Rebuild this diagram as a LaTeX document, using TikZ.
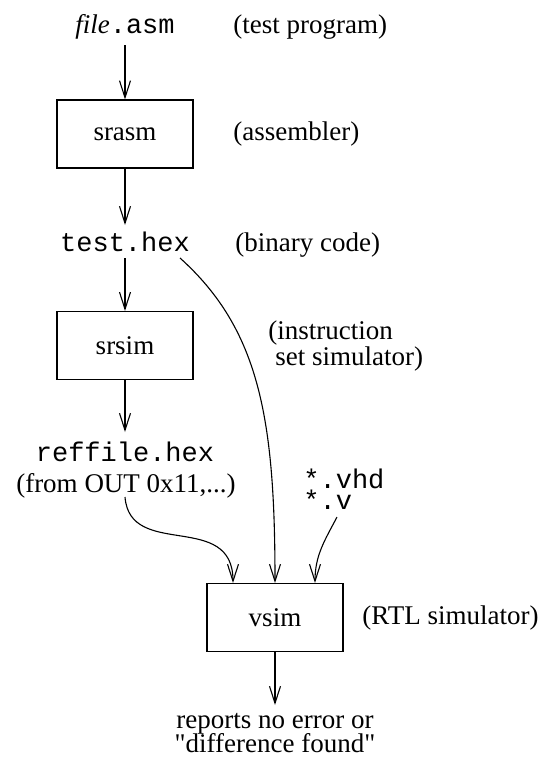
\documentclass[tikz,border=0pt]{standalone}
\usepackage{fontspec}
\setmainfont{Liberation Serif}
\setmonofont{Liberation Mono}
\newfontfamily\plainserif{Liberation Serif}[Ligatures=TeXOff]
\usetikzlibrary{arrows.meta}
\begin{document}
\begin{tikzpicture}[x=0.5pt,y=-0.5pt,
  every node/.style={font=\fontsize{13.5}{16}\selectfont, inner sep=0pt},
  box/.style={draw, line width=0.55pt, minimum width=68pt, minimum height=34pt},
  lbl/.style={anchor=base west},
  txt/.style={anchor=base},
  arr/.style={line width=0.55pt, -{Straight Barb[length=8.5pt,width=5.5pt,line width=0.55pt]}},
  ]
\useasboundingbox (0,0) rectangle (546,760);
\node[txt] (file) at (125,33) {\textit{file}\texttt{.asm}};
\node[lbl] (l1) at (233,33) {(test program)};
\node[box] (sr) at (125,134) {srasm};
\node[lbl] (l2) at (233,140) {(assembler)};
\node[txt] (th) at (125,251) {\texttt{test.hex}};
\node[lbl] (l3) at (235,251) {(binary code)};
\node[box] (ss) at (125,345.5) {srsim};
\node[lbl] (l4) at (268,339) {(instruction};
\node[lbl] (l5) at (275,365) {set simulator)};
\node[txt] (rf) at (125,461) {\texttt{reffile.hex}};
\node[txt] (from) at (126,492) {(from OUT 0x11,...)};
\node[anchor=base west, align=left, font=\fontsize{13.5}{10.5}\selectfont\ttfamily] (vhd) at (303,509) {*.vhd\\*.v};
\coordinate (vstart) at (337,517);
\node[box] (vs) at (275,617.5) {vsim};
\node[lbl] (l6) at (362,624) {(RTL simulator)};
\node[txt] (rep1) at (275,728) {reports no error or};
\node[txt] (rep2) at (275,752) {\plainserif"difference found"};
\draw[arr] ([yshift=-6pt]file.base) -- (sr.north);
\draw[arr] (sr.south) -- ([yshift=13pt]th.base);
\draw[arr] ([yshift=-3.5pt]th.base) -- (ss.north);
\draw[arr] (ss.south) -- ([yshift=14.5pt]rf.base);
\draw[arr] ([xshift=27.5pt,yshift=-3.5pt]th.base) .. controls (260,330) and (275,420) .. (vs.north);
\draw[arr] ([xshift=-0.5pt,yshift=-2.5pt]from.base) .. controls (130,560) and (233,510) .. ([xshift=-21pt]vs.north);
\draw[arr] (vstart) .. controls (325,540) and (315,555) .. ([xshift=20pt]vs.north);
\draw[arr] (vs.south) -- ([yshift=11.5pt]rep1.base);
\end{tikzpicture}
\end{document}
